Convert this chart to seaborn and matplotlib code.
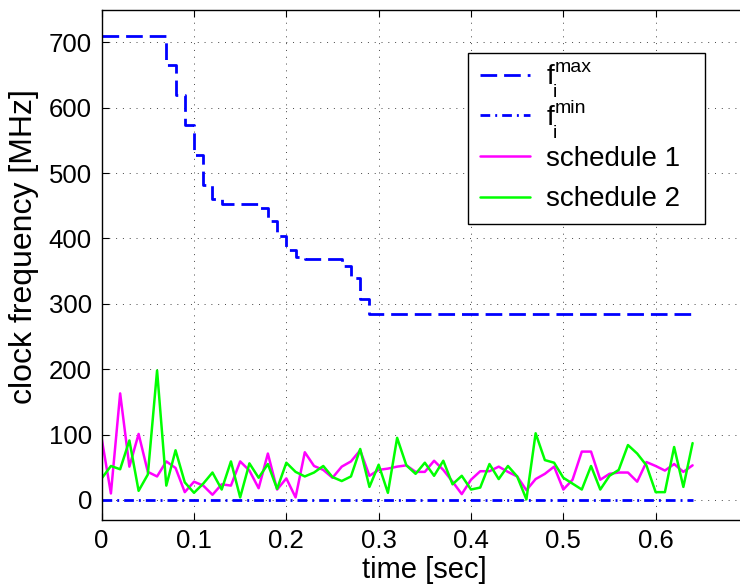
import numpy as np
import pandas as pd
import matplotlib
matplotlib.use("Agg")
import matplotlib.pyplot as plt
import seaborn as sns

# ---------------- data ----------------
time = [round(0.01 * i, 2) for i in range(65)]

f_max = [710, 710, 710, 710, 710, 710, 710, 665, 619, 574,
         528, 482, 460, 453, 453, 453, 453, 447, 427, 403,
         383, 372, 368, 368, 368, 368, 358, 340, 308, 285,
         285, 285, 285, 285, 285, 285, 285, 285, 285, 285,
         285, 285, 285, 285, 285, 285, 285, 285, 285, 285,
         285, 285, 285, 285, 285, 285, 285, 285, 285, 285,
         285, 285, 285, 285, 285]

f_min = [0] * 65

schedule1 = [94, 10, 163, 51, 101, 43, 36, 59, 49, 12,
             28, 22, 8, 24, 22, 59, 45, 18, 71, 16,
             33, 4, 73, 52, 46, 34, 51, 59, 76, 37,
             46, 48, 51, 53, 43, 43, 60, 46, 28, 9,
             31, 44, 44, 51, 43, 36, 15, 32, 40, 51,
             16, 31, 74, 74, 31, 40, 42, 42, 28, 58,
             52, 45, 55, 43, 53]

schedule2 = [33, 52, 47, 91, 14, 39, 198, 22, 76, 27,
             11, 25, 42, 16, 59, 4, 56, 34, 55, 17,
             57, 43, 36, 42, 52, 35, 29, 36, 78, 20,
             54, 11, 95, 53, 40, 57, 37, 60, 24, 37,
             16, 19, 55, 32, 52, 36, 1, 102, 61, 57,
             34, 25, 16, 52, 16, 37, 46, 84, 71, 53,
             12, 12, 81, 20, 87]

x_ticks = [0, 0.1, 0.2, 0.3, 0.4, 0.5, 0.6]
y_ticks = [0, 100, 200, 300, 400, 500, 600, 700]

# legend labels: base letter, superscript, subscript
label_base = ["f", "f", "schedule 1", "schedule 2"]
label_sup = ["max", "min", None, None]
label_sub = ["i", "i", None, None]

# ---------------- style ----------------
sns.set_theme(style="white")
plt.rcParams["font.family"] = ["Liberation Sans", "DejaVu Sans"]
plt.rcParams["text.color"] = "black"
plt.rcParams["axes.labelcolor"] = "black"
plt.rcParams["xtick.color"] = "black"
plt.rcParams["ytick.color"] = "black"

df = pd.DataFrame({"time": time, "fmax": f_max, "fmin": f_min,
                   "s1": schedule1, "s2": schedule2})

fig = plt.figure(figsize=(7.40, 5.87), dpi=100)
ax = fig.add_axes([0.1374, 0.1148, 0.8734, 0.869])

sns.lineplot(data=df, x="time", y="fmax", ax=ax, color="#0000FF", lw=2.0,
             linestyle=(0, (6.0, 2.5)), drawstyle="steps-post",
             errorbar=None, label=label_base[0])
sns.lineplot(data=df, x="time", y="fmin", ax=ax, color="#0000FF", lw=2.0,
             linestyle=(0, (3.5, 1.8, 0.7, 1.8)),
             errorbar=None, label=label_base[1])
sns.lineplot(data=df, x="time", y="s1", ax=ax, color="#FF00FF", lw=1.8,
             errorbar=None, label=label_base[2])
sns.lineplot(data=df, x="time", y="s2", ax=ax, color="#00FF00", lw=1.8,
             errorbar=None, label=label_base[3])

ax.set_xlim(0, 0.7)
ax.set_ylim(-30, 750)
ax.set_xticks(x_ticks)
ax.set_xticklabels([("%g" % v) for v in x_ticks])
ax.set_yticks(y_ticks)
ax.set_yticklabels([str(v) for v in y_ticks])

ax.grid(True, color="#444444", linestyle=(0, (1, 6)), linewidth=0.7)
ax.tick_params(axis="both", direction="in", length=5, width=0.8,
               labelsize=18.5, colors="black", pad=7,
               top=True, bottom=True, left=True, right=False)
for side in ["left", "bottom", "top"]:
    ax.spines[side].set_visible(True)
    ax.spines[side].set_color("black")
    ax.spines[side].set_linewidth(1.0)
ax.spines["right"].set_visible(False)

ax.set_xlabel("time [sec]", fontsize=21, labelpad=2, color="black")
ax.set_ylabel("clock frequency [MHz]", fontsize=23, color="black")
ax.yaxis.set_label_coords(-0.097, 0.5355)

leg = ax.legend(loc="upper left",
                bbox_to_anchor=(0.567, 0.584, 0.3667, 0.3315),
                mode="expand",
                fontsize=20, frameon=True, fancybox=False, framealpha=1,
                edgecolor="black", handlelength=1.8, handletextpad=0.6,
                borderpad=0.42, labelspacing=0.53, borderaxespad=0,
                labelcolor="black")
leg.get_frame().set_linewidth(1.0)

# add super-/subscripts next to the legend's "f" entries (MATLAB-like look)
fig.canvas.draw()
renderer = fig.canvas.get_renderer()
inv = fig.transFigure.inverted()
for txt, sup, sub in zip(leg.get_texts(), label_sup, label_sub):
    if sup is None:
        continue
    bb = txt.get_window_extent(renderer)
    bx, by = txt.get_transform().transform(txt.get_position())
    sx, sy = inv.transform((bb.x1 + 0.5, by + 12))
    fig.text(sx, sy, sup, fontsize=14, ha="left", va="baseline",
             color="black")
    ix, iy = inv.transform((bb.x1 - 1.5, by - 12.5))
    fig.text(ix, iy, sub, fontsize=14, ha="left", va="baseline",
             color="black")

fig.savefig("out.png", dpi=100)
